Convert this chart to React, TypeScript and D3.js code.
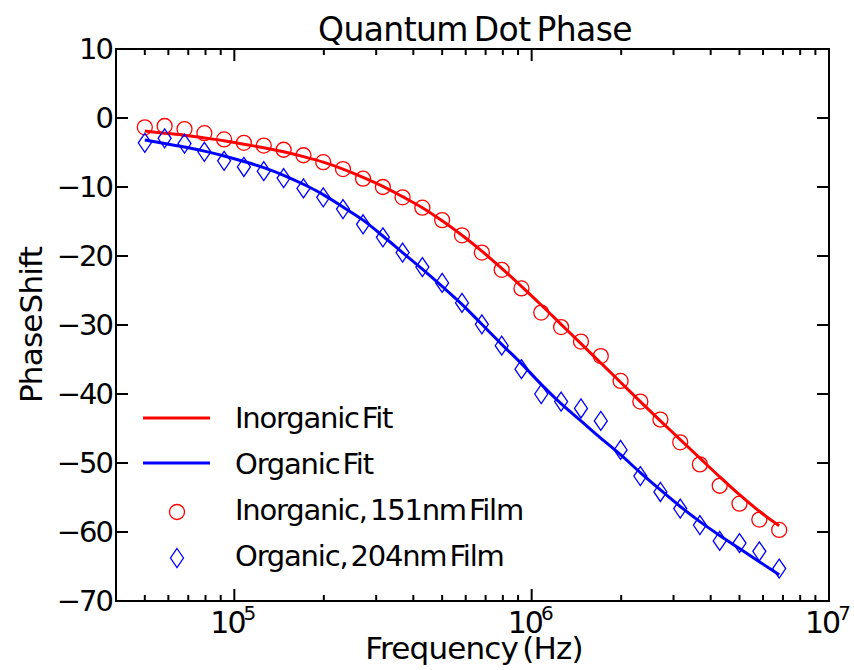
import React from 'react';
import * as d3 from 'd3';

// frequencies (Hz), 15 points per decade
const freqs = [
  5.0e4, 5.83e4, 6.8e4, 7.93e4, 9.24e4, 1.077e5, 1.256e5, 1.465e5, 1.708e5, 1.991e5, 2.32e5,
  2.71e5, 3.16e5, 3.68e5, 4.29e5, 5.0e5, 5.83e5, 6.8e5, 7.93e5, 9.24e5, 1.077e6, 1.256e6,
  1.465e6, 1.708e6, 1.991e6, 2.32e6, 2.71e6, 3.16e6, 3.68e6, 4.29e6, 5.0e6, 5.83e6, 6.8e6,
];

const inorganicData = [
  -1.35, -1.16, -1.6, -2.2, -3.1, -3.6, -4.0, -4.6, -5.4, -6.4, -7.4, -8.8, -10.0, -11.5, -13.0,
  -14.8, -17.0, -19.5, -22.0, -24.7, -28.2, -30.3, -32.4, -34.5, -38.1, -41.1, -43.7, -47.0,
  -50.2, -53.3, -55.9, -58.2, -59.7,
];

const organicData = [
  -3.6, -2.95, -3.7, -4.9, -6.2, -7.1, -7.7, -8.7, -10.2, -11.5, -13.2, -15.4, -17.3, -19.5,
  -21.6, -23.9, -26.8, -29.9, -33.0, -36.4, -40.0, -41.1, -42.1, -43.9, -48.1, -51.9, -54.2,
  -56.6, -59.0, -61.3, -61.6, -62.8, -65.3,
];

const inorganicFit = [
  -1.9, -2.2, -2.5, -2.9, -3.3, -3.8, -4.3, -4.9, -5.6, -6.4, -7.4, -8.6, -9.9, -11.4, -13.0,
  -14.9, -17.0, -19.3, -21.8, -24.4, -27.1, -29.9, -32.7, -35.5, -38.3, -41.1, -43.9, -46.6,
  -49.3, -52.0, -54.6, -57.0, -59.1,
];

const organicFit = [
  -3.2, -3.7, -4.2, -4.8, -5.5, -6.3, -7.2, -8.3, -9.6, -11.1, -12.9, -14.8, -17.1, -19.5,
  -21.9, -24.4, -27.0, -29.9, -32.8, -35.6, -38.6, -41.4, -43.9, -46.4, -48.8, -51.4, -53.9,
  -56.3, -58.5, -60.5, -62.4, -64.3, -66.2,
];

const yTicks = [10, 0, -10, -20, -30, -40, -50, -60, -70];
const xDecades = [5, 6, 7];
const legendItems = ['Inorganic Fit', 'Organic Fit', 'Inorganic, 151nm Film', 'Organic, 204nm Film'];

const W = 854;
const H = 670;
const left = 116;
const right = 829;
const top = 49;
const bottom = 601;
const font = 'DejaVu Sans, sans-serif';

export default function App() {
  const x = d3.scaleLog().domain([4e4, 1e7]).range([left, right]);
  const y = d3.scaleLinear().domain([-70, 10]).range([bottom, top]);

  const line = d3
    .line<number>()
    .x((_, i) => x(freqs[i]))
    .y((d) => y(d))
    .curve(d3.curveMonotoneX);

  const minor: number[] = [];
  xDecades.forEach((e) => {
    for (let m = 2; m <= 9; m++) {
      const v = m * Math.pow(10, e - 1);
      if (v > 4e4 && v < 1e7) minor.push(v);
    }
  });

  const diamond = (cx: number, cy: number, w = 6.5, h = 9.5) =>
    `M${cx},${cy - h}L${cx + w},${cy}L${cx},${cy + h}L${cx - w},${cy}Z`;

  return (
    <svg
      width={W}
      height={H}
      style={{ position: 'absolute', left: 0, top: 0, background: '#fff' }}
      fontFamily={font}
    >
      <rect width={W} height={H} fill="#fff" />

      {/* fits */}
      <path d={line(inorganicFit) || ''} fill="none" stroke="#ff0000" strokeWidth={3} />
      <path d={line(organicFit) || ''} fill="none" stroke="#0000ff" strokeWidth={3} />

      {/* data */}
      {inorganicData.map((d, i) => (
        <circle key={'c' + i} cx={x(freqs[i])} cy={y(d)} r={7.5} fill="none" stroke="#ff0000" strokeWidth={1.3} />
      ))}
      {organicData.map((d, i) => (
        <path key={'d' + i} d={diamond(x(freqs[i]), y(d))} fill="none" stroke="#0000ff" strokeWidth={1.3} />
      ))}

      {/* frame */}
      <rect x={left} y={top} width={right - left} height={bottom - top} fill="none" stroke="#000" strokeWidth={2} />

      {/* y ticks */}
      {yTicks.map((t) => (
        <g key={'y' + t}>
          <line x1={left} x2={left + 12} y1={y(t)} y2={y(t)} stroke="#000" strokeWidth={2} />
          <line x1={right} x2={right - 12} y1={y(t)} y2={y(t)} stroke="#000" strokeWidth={2} />
          <text
            x={left - 4}
            y={y(t)}
            dy="0.36em"
            textAnchor="end"
            fontSize={29}
            letterSpacing={-2}
          >
            {t < 0 ? '\u2212' + Math.abs(t) : t}
          </text>
        </g>
      ))}

      {/* x ticks */}
      {xDecades.map((e) => {
        const v = Math.pow(10, e);
        return (
          <g key={'x' + e}>
            <line x1={x(v)} x2={x(v)} y1={bottom} y2={bottom - 12} stroke="#000" strokeWidth={2} />
            <line x1={x(v)} x2={x(v)} y1={top} y2={top + 12} stroke="#000" strokeWidth={2} />
            <text x={x(v) - 2} y={bottom + 32} textAnchor="middle" fontSize={30} letterSpacing={-2}>
              10
              <tspan fontSize={20} dy={-13} dx={-1}>
                {e}
              </tspan>
            </text>
          </g>
        );
      })}
      {minor.map((v) => (
        <g key={'m' + v}>
          <line x1={x(v)} x2={x(v)} y1={bottom} y2={bottom - 6} stroke="#000" strokeWidth={2} />
          <line x1={x(v)} x2={x(v)} y1={top} y2={top + 6} stroke="#000" strokeWidth={2} />
        </g>
      ))}

      {/* titles */}
      <text x={475} y={41} textAnchor="middle" fontSize={33} letterSpacing={-0.6} wordSpacing={-4}>
        Quantum Dot Phase
      </text>
      <text x={474} y={659} textAnchor="middle" fontSize={31} letterSpacing={-0.8} wordSpacing={-5}>
        Frequency (Hz)
      </text>
      <text
        transform={`translate(42,${(top + bottom) / 2}) rotate(-90)`}
        textAnchor="middle"
        fontSize={31}
        letterSpacing={-0.8}
        wordSpacing={-8}
      >
        Phase Shift
      </text>

      {/* legend */}
      <g>
        <line x1={143} x2={210} y1={418} y2={418} stroke="#ff0000" strokeWidth={3} />
        <line x1={143} x2={210} y1={463} y2={463} stroke="#0000ff" strokeWidth={3} />
        <circle cx={177} cy={512} r={7.5} fill="none" stroke="#ff0000" strokeWidth={1.3} />
        <path d={diamond(177, 558)} fill="none" stroke="#0000ff" strokeWidth={1.3} />
        {legendItems.map((t, i) => (
          <text
            key={t}
            x={235}
            y={418 + i * 46}
            dy="0.36em"
            fontSize={29}
            letterSpacing={-1.2}
            wordSpacing={-5}
          >
            {t}
          </text>
        ))}
      </g>
    </svg>
  );
}
